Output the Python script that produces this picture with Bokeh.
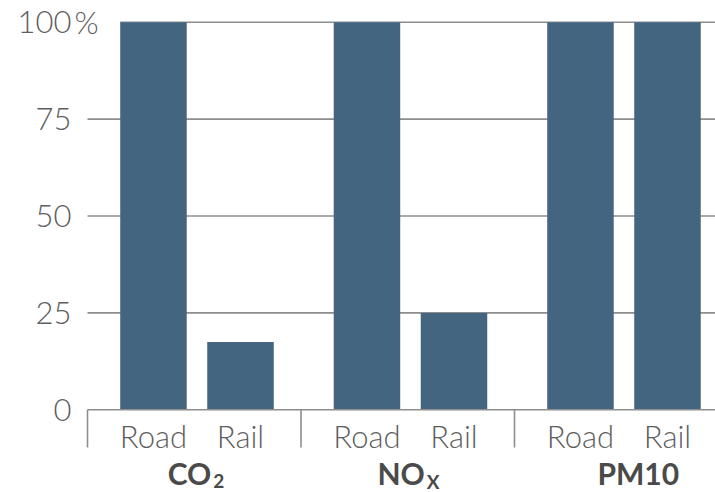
from bokeh.plotting import figure
from bokeh.models import Range1d
from bokeh.core.properties import value
from bokeh.embed import file_html
from bokeh.resources import INLINE

# Relative emissions per pollutant, road transport = 100 %
pollutants = ["CO", "NO", "PM10"]
pollutant_subs = ["2", "X", ""]
modes = ["Road", "Rail"]
road_share = [100, 100, 100]
rail_share = [17.5, 25, 100]
y_ticks = [0, 25, 50, 75, 100]

# Canvas and layout (pixels)
W, H = 715, 492
GROUP_PX = 213.5          # width of one pollutant group
LEFT_PX = 87              # left edge of the first group
PX_PER_PCT = 3.876        # vertical scale
ZERO_PX = 409.3           # baseline position from top

def px_x(px):
    return (px - LEFT_PX) / GROUP_PX

def px_y(px):
    return (ZERO_PX - px) / PX_PER_PCT

road_off = 0.309
rail_off = 0.7166
bar_w = 0.3115

FONT = value("Lato Light")
BOLD_FONT = value("Lato")
BAR_COLOR = "#44657f"
RULE_COLOR = "#8e8e8e"
TICK_TEXT = "#5e5e5e"
GROUP_TEXT = "#4a4a4a"

p = figure(
    width=W, height=H,
    x_range=Range1d(px_x(0), px_x(W)),
    y_range=Range1d(px_y(H), px_y(0)),
    output_backend="svg", toolbar_location=None,
    min_border=0, outline_line_color=None,
    background_fill_color="white", border_fill_color="white",
)
p.axis.visible = False
p.grid.visible = False

x_end = px_x(W)
n = len(pollutants)
road_x = [i + road_off for i in range(n)]
rail_x = [i + rail_off for i in range(n)]

# horizontal rules at the tick values (above zero); the top rule leaves room for the "%"
grid_vals = [v for v in y_ticks if v > 0]
grid_start = [0 if v < y_ticks[-1] else road_x[0] - bar_w / 2 for v in grid_vals]
p.segment(x0=grid_start, y0=grid_vals, x1=[x_end] * len(grid_vals), y1=grid_vals,
          line_color=RULE_COLOR, line_width=1.6)

# bars
p.vbar(x=road_x, top=road_share, bottom=0, width=bar_w, fill_color=BAR_COLOR, line_color=None)
p.vbar(x=rail_x, top=rail_share, bottom=0, width=bar_w, fill_color=BAR_COLOR, line_color=None)

# baseline and group separators
p.segment(x0=[0], y0=[0], x1=[x_end], y1=[0], line_color=RULE_COLOR, line_width=1.6)
sep_bottom = px_y(447)
p.segment(x0=list(range(n)), y0=[0] * n, x1=list(range(n)), y1=[sep_bottom] * n,
          line_color=RULE_COLOR, line_width=1.6)

# y tick labels
tick_x = px_x(71)
p.text(x=[tick_x] * len(y_ticks), y=y_ticks, text=[str(v) for v in y_ticks],
       text_align="right", text_baseline="middle", text_font=FONT,
       text_font_size="31px", text_color=TICK_TEXT)
p.text(x=[px_x(74)], y=[y_ticks[-1]], text=["%"],
       text_align="left", text_baseline="middle", text_font=FONT,
       text_font_size="31px", text_color=TICK_TEXT)

# mode labels under each bar
mode_y = px_y(435)
p.text(x=road_x, y=[mode_y] * n, text=[modes[0]] * n,
       text_align="center", text_baseline="middle", text_font=FONT,
       text_font_size="31px", text_color=TICK_TEXT)
p.text(x=rail_x, y=[mode_y] * n, text=[modes[1]] * n,
       text_align="center", text_baseline="middle", text_font=FONT,
       text_font_size="31px", text_color=TICK_TEXT)

# pollutant names, with subscripts where needed
shift = 17 / GROUP_PX
group_y = px_y(472)
sub_y = px_y(480.5)
for i, (name, sub) in enumerate(zip(pollutants, pollutant_subs)):
    cx = i + 0.5 + shift
    if sub:
        p.text(x=[cx], y=[group_y], text=[name], text_align="right",
               text_baseline="middle", text_font=BOLD_FONT, text_font_style="bold",
               text_font_size="30px", text_color=GROUP_TEXT)
        p.text(x=[cx + 2 / GROUP_PX], y=[sub_y], text=[sub], text_align="left",
               text_baseline="middle", text_font=BOLD_FONT, text_font_style="bold",
               text_font_size="19px", text_color=GROUP_TEXT)
    else:
        p.text(x=[cx], y=[group_y], text=[name], text_align="center",
               text_baseline="middle", text_font=BOLD_FONT, text_font_style="bold",
               text_font_size="30px", text_color=GROUP_TEXT)

open("out.html", "w").write(file_html(p, INLINE))
